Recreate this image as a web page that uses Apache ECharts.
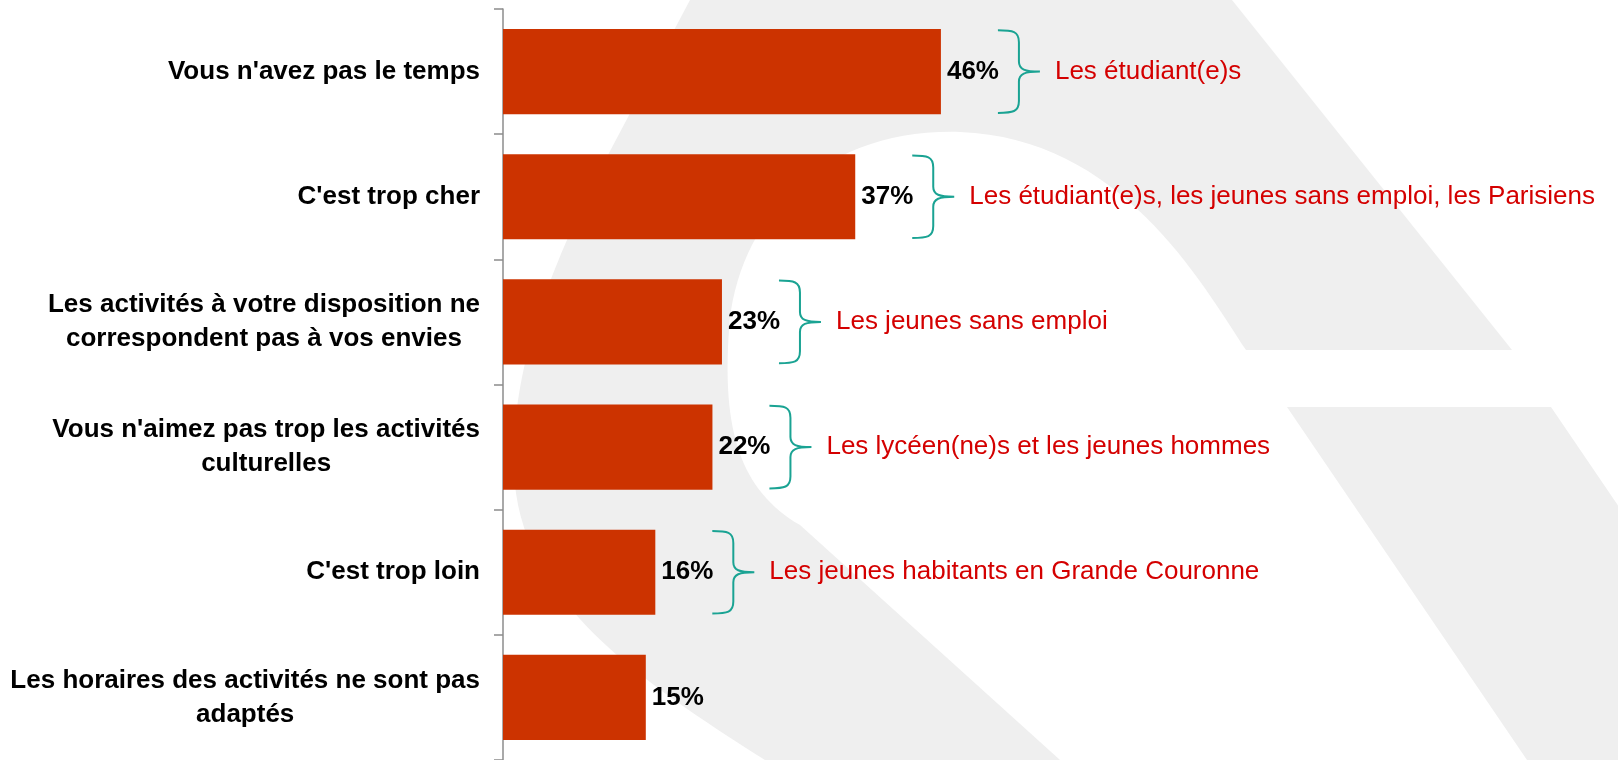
<!DOCTYPE html>
<html>
<head>
<meta charset="utf-8">
<script src="https://cdn.jsdelivr.net/npm/echarts@6/dist/echarts.min.js"></script>
<style>
html,body{margin:0;padding:0;background:#fff;}
#chart{width:1618px;height:760px;}
</style>
</head>
<body>
<div id="chart"></div>
<script>
// ---- data ----
const categories = [
  "Vous n'avez pas le temps",
  "C'est trop cher",
  "Les activités à votre disposition ne\ncorrespondent pas à vos envies",
  "Vous n'aimez pas trop les activités\nculturelles",
  "C'est trop loin",
  "Les horaires des activités ne sont pas\nadaptés"
];
const values = [46, 37, 23, 22, 16, 15];
const annotations = [
  "Les étudiant(e)s",
  "Les étudiant(e)s, les jeunes sans emploi, les Parisiens",
  "Les jeunes sans emploi",
  "Les lycéen(ne)s et les jeunes hommes",
  "Les jeunes habitants en Grande Couronne",
  ""
];

const FONT = "'Liberation Sans', Arial, sans-serif";
const annoData = [];
annotations.forEach((t, i) => { if (t) annoData.push([values[i], i, t]); });

// decorative background watermark (page pixels)
const BG_PATHS = [
  'M 690 0 L 1232 0 L 1512 350 L 1246 350 C 1200 280 1120 138 960 132 C 820 128 737 220 729 330 C 722 430 740 490 800 525 L 1060 760 L 765 760 C 640 680 518 600 514 470 C 510 360 560 250 600 170 Z',
  'M 1287 407 L 1551 407 L 1791 760 L 1527 760 Z'
];

const chart = echarts.init(document.getElementById('chart'), null, {renderer: 'canvas'});
chart.setOption({
  backgroundColor: '#ffffff',
  animation: false,
  grid: { left: 503, right: 163, top: 9, bottom: -1, containLabel: false },
  xAxis: { type: 'value', min: 0, max: 100, show: false },
  yAxis: {
    type: 'category',
    inverse: true,
    data: categories,
    axisLine: { show: true, lineStyle: { color: '#8c8c8c', width: 1.5 } },
    axisTick: { show: true, length: 9, lineStyle: { color: '#8c8c8c', width: 1.5 } },
    axisLabel: {
      margin: 23,
      color: '#000',
      fontFamily: FONT,
      fontSize: 26,
      fontWeight: 'bold',
      formatter: v => v.split('\n').map(l => '{c|' + l + '}').join('\n'),
      rich: { c: { align: 'center', fontFamily: FONT, fontSize: 26, fontWeight: 'bold', color: '#000', lineHeight: 34 } }
    },
    splitLine: { show: false }
  },
  series: [
    {
      type: 'custom',
      z: 0,
      silent: true,
      clip: false,
      data: [[0]],
      renderItem: function () {
        return {
          type: 'group',
          children: BG_PATHS.map(d => ({ type: 'path', shape: { pathData: d }, style: { fill: '#efefef' } }))
        };
      }
    },
    {
      type: 'bar',
      data: values,
      z: 3,
      barCategoryGap: '32%',
      itemStyle: { color: '#cc3300' },
      label: {
        show: true, position: 'right', distance: 6,
        formatter: '{c}%',
        color: '#000', fontFamily: FONT, fontSize: 26, fontWeight: 'bold'
      }
    },
    {
      type: 'custom',
      data: annoData,
      z: 5,
      clip: false,
      renderItem: function (params, api) {
        const p = api.coord([api.value(0), api.value(1)]);
        const band = api.size([0, 1])[1];
        const h = band * 0.66;
        const xL = p[0] + 57, xS = xL + 21, xT = xL + 42;
        const yC = p[1], top = yC - h / 2, bot = yC + h / 2;
        const d = 'M ' + xL + ' ' + top +
          ' C ' + (xL + 15) + ' ' + top + ' ' + xS + ' ' + (top + 1) + ' ' + xS + ' ' + (top + 12) +
          ' L ' + xS + ' ' + (yC - 10) +
          ' C ' + xS + ' ' + (yC - 2) + ' ' + (xS + 6) + ' ' + yC + ' ' + xT + ' ' + yC +
          ' M ' + xT + ' ' + yC +
          ' C ' + (xS + 6) + ' ' + yC + ' ' + xS + ' ' + (yC + 2) + ' ' + xS + ' ' + (yC + 10) +
          ' L ' + xS + ' ' + (bot - 12) +
          ' C ' + xS + ' ' + (bot - 1) + ' ' + (xL + 15) + ' ' + bot + ' ' + xL + ' ' + bot;
        return {
          type: 'group',
          children: [
            { type: 'path', shape: { pathData: d }, style: { fill: null, stroke: '#1aa393', lineWidth: 2 } },
            { type: 'text', x: xT + 15, y: yC,
              style: { text: api.value(2), fill: '#d40000', font: '26px ' + FONT, textAlign: 'left', textVerticalAlign: 'middle' } }
          ]
        };
      }
    }
  ]
});
</script>
</body>
</html>
